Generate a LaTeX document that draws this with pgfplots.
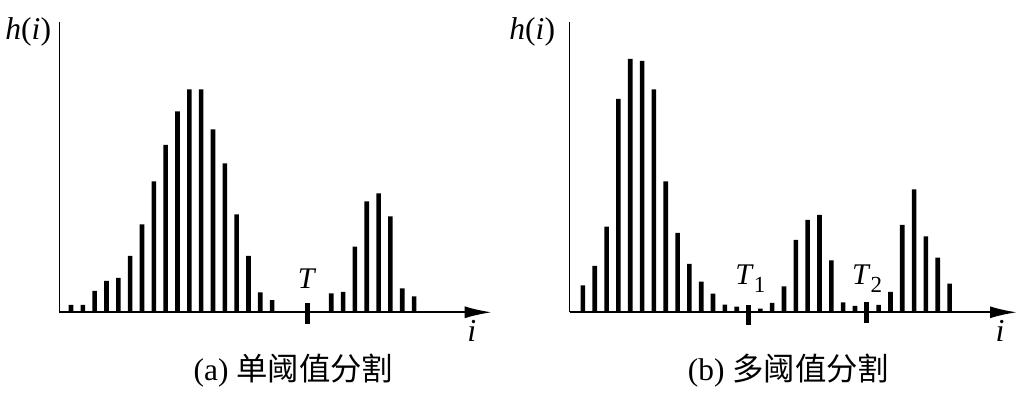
\documentclass[border=0pt]{standalone}
\usepackage{pgfplots}
\pgfplotsset{compat=1.18}
\usepackage{fontspec}
\setmainfont{Liberation Serif}
\newfontfamily\cjk{Noto Sans CJK SC}
\usetikzlibrary{arrows.meta}
\begin{document}
\begin{tikzpicture}[x=0.5pt,y=0.5pt]
\path[use as bounding box] (0,0) rectangle (1025,394);
\coordinate (PA) at (59.3,81.7);
\coordinate (PB) at (569.7,81.7);
\pgfplotsset{hist/.style={scale only axis, axis lines*=left, clip=false,
  enlargelimits=false, xtick=\empty, ytick=\empty, ymin=0, ymax=290.6,
  height=145.3pt, anchor=south west,
  x axis line style={line width=0.95pt,-{Latex[length=13.5pt,width=6pt]}},
  y axis line style={line width=0.75pt}},
  histbar/.style={ybar, bar width=2.3pt, bar shift=0pt, fill=black, draw=none}}
% (a)
\begin{axis}[hist, at={(PA)}, width=216.2pt, xmin=-0.99, xmax=35.56]
\addplot[histbar] coordinates {(0,7.3) (1,7.3) (2,21.3) (3,31.3) (4,34.5) (5,56.3)
 (6,88) (7,131) (8,167.5) (9,201) (10,223) (11,223) (12,183) (13,149) (14,98)
 (15,56.3) (16,19.8) (17,12.2) (22,19) (23,20.3) (24,65.7) (25,111) (26,119)
 (27,96) (28,24) (29,16)};
\addplot[black, line width=2.3pt] coordinates {(20,-11.5) (20,8.8)};
\end{axis}
% (b)
\begin{axis}[hist, at={(PB)}, width=223.65pt, xmin=-1.12, xmax=36.7]
\addplot[histbar] coordinates {(0,27) (1,46.3) (2,85.7) (3,213.3) (4,253.3)
 (5,251.3) (6,223) (7,131) (8,79.3) (9,48.3) (10,30.7) (11,18.7) (12,7.7)
 (13,5.7) (15,3.7) (16,9.3) (17,26) (18,72.5) (19,92.5) (20,97.5) (21,52)
 (22,10) (23,6.3) (25,7.3) (26,20.5) (27,87.3) (28,122.8) (29,76) (30,54.7)
 (31,28.7)};
\addplot[black, line width=2.3pt] coordinates {(14,-12.7) (14,7.3)};
\addplot[black, line width=2.3pt] coordinates {(24,-10.3) (24,10.7)};
\end{axis}
% labels
\node[anchor=base west, inner sep=0] at (5,354) {\fontsize{15.8}{18}\selectfont\textit{h}(\textit{i})};
\node[anchor=base west, inner sep=0] at (509,354) {\fontsize{15.8}{18}\selectfont\textit{h}(\textit{i})};
\node[anchor=base, inner sep=0] at (471.7,52.3) {\fontsize{16}{18}\selectfont\textit{i}};
\node[anchor=base, inner sep=0] at (1000,52.3) {\fontsize{16}{18}\selectfont\textit{i}};
\node[anchor=base west, inner sep=0] at (297.5,105.7) {\fontsize{15}{16}\selectfont\textit{T}};
\node[anchor=base west, inner sep=0] at (735,109) {\fontsize{15}{16}\selectfont\textit{T}\raisebox{-4pt}{\fontsize{11.5}{12}\selectfont 1}};
\node[anchor=base west, inner sep=0] at (851.7,109) {\fontsize{15}{16}\selectfont\textit{T}\raisebox{-4pt}{\fontsize{11.5}{12}\selectfont 2}};
\node[anchor=base west, inner sep=0] at (193.3,13) {\fontsize{15.7}{18}\selectfont (a) {\cjk 单阈值分割}};
\node[anchor=base west, inner sep=0] at (687.5,13) {\fontsize{15.7}{18}\selectfont (b) {\cjk 多阈值分割}};
\end{tikzpicture}
\end{document}
